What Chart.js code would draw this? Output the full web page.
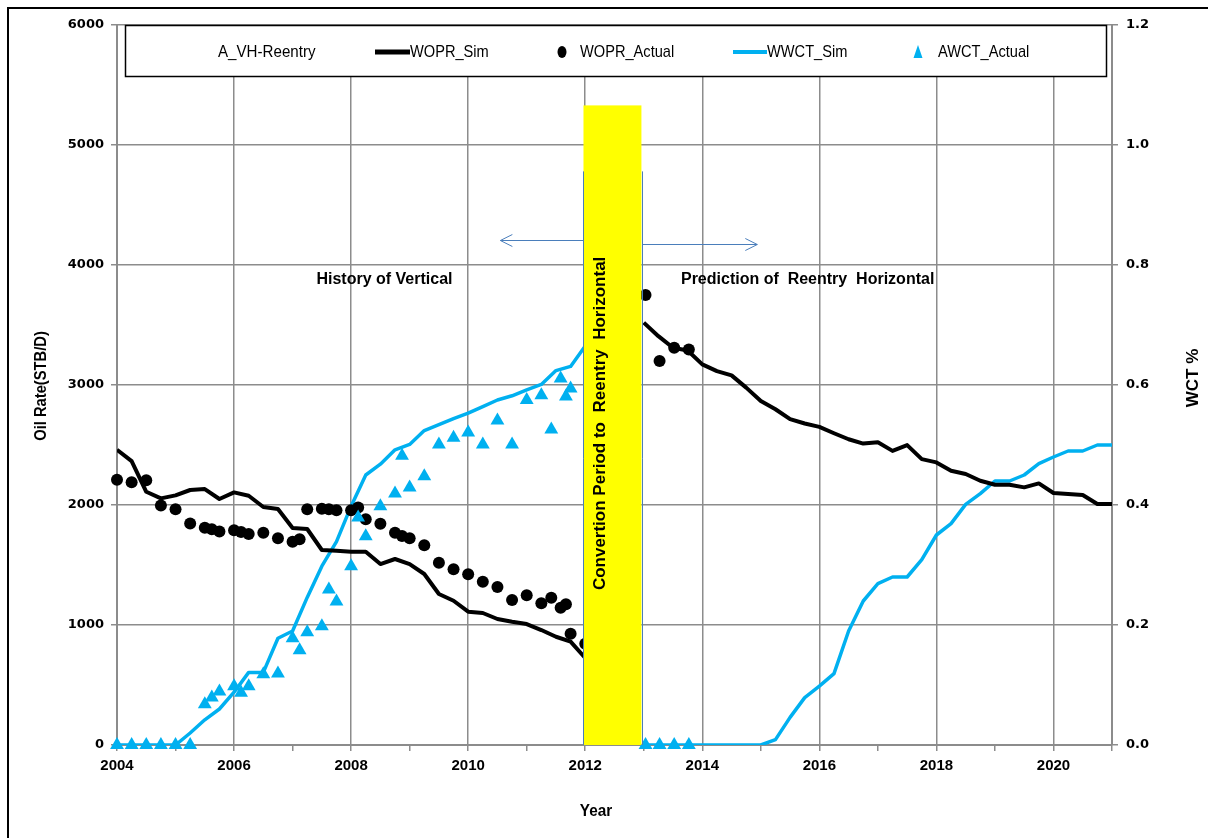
<!DOCTYPE html>
<html>
<head>
<meta charset="utf-8">
<script src="https://cdn.jsdelivr.net/npm/chart.js@4.4.1/dist/chart.umd.min.js"></script>
<style>
  html, body { margin: 0; padding: 0; background: #ffffff; }
  canvas { display: block; }
</style>
</head>
<body>
<canvas id="chart" width="1208" height="838"></canvas>
<script>
// ---- Well A_VH-Reentry: oil rate and water cut, history + prediction ----

// Simulated oil rate (STB/D)
const woprSimYears = [
  2004.0, 2004.25, 2004.5, 2004.75, 2005.0, 2005.25, 2005.5, 2005.75,
  2006.0, 2006.25, 2006.5, 2006.75, 2007.0, 2007.25, 2007.5, 2007.75,
  2008.0, 2008.25, 2008.5, 2008.75, 2009.0, 2009.25, 2009.5, 2009.75,
  2010.0, 2010.25, 2010.5, 2010.75, 2011.0, 2011.25, 2011.5, 2011.75, 2012.0,
  2013.0, 2013.25, 2013.5, 2013.75, 2014.0, 2014.25, 2014.5, 2014.75,
  2015.0, 2015.25, 2015.5, 2015.75, 2016.0, 2016.25, 2016.5, 2016.75,
  2017.0, 2017.25, 2017.5, 2017.75, 2018.0, 2018.25, 2018.5, 2018.75,
  2019.0, 2019.25, 2019.5, 2019.75, 2020.0, 2020.25, 2020.5, 2020.75, 2021.0
];
const woprSimValues = [
  2460, 2365, 2110, 2055, 2080, 2125, 2133, 2050,
  2105, 2077, 1983, 1966, 1808, 1800, 1625, 1619,
  1611, 1611, 1508, 1550, 1508, 1425, 1258, 1202,
  1111, 1100, 1050, 1027, 1008, 958, 902, 861, 725,
  3520, 3407, 3310, 3288, 3172, 3116, 3080, 2978,
  2867, 2798, 2715, 2679, 2651, 2598, 2548, 2512,
  2523, 2451, 2499, 2382, 2355, 2285, 2258, 2202,
  2169, 2169, 2147, 2180, 2100, 2091, 2083, 2008, 2008
];

// Measured oil rate (STB/D)
const woprActualYears = [
  2004.0, 2004.25, 2004.5, 2004.75, 2005.0, 2005.25, 2005.5, 2005.62, 2005.75,
  2006.0, 2006.12, 2006.25, 2006.5, 2006.75, 2007.0, 2007.12, 2007.25, 2007.5,
  2007.62, 2007.75, 2008.0, 2008.12, 2008.25, 2008.5, 2008.75, 2008.87, 2009.0,
  2009.25, 2009.5, 2009.75, 2010.0, 2010.25, 2010.5, 2010.75, 2011.0, 2011.25,
  2011.42, 2011.58, 2011.67, 2011.75, 2012.0,
  2013.03, 2013.27, 2013.52, 2013.77
];
const woprActualValues = [
  2210, 2190, 2206, 1995, 1965, 1845, 1811, 1797, 1780,
  1790, 1775, 1758, 1769, 1722, 1694, 1714, 1964, 1969,
  1964, 1956, 1956, 1980, 1881, 1844, 1769, 1742, 1722,
  1664, 1519, 1464, 1422, 1361, 1317, 1208, 1247, 1181,
  1228, 1144, 1172, 928, 844,
  3750, 3200, 3310, 3295
];

// Simulated water cut (fraction)
const wwctSimYears = [
  2004.0, 2004.25, 2004.5, 2004.75, 2005.0, 2005.25, 2005.5, 2005.75,
  2006.0, 2006.25, 2006.5, 2006.75, 2007.0, 2007.25, 2007.5, 2007.75,
  2008.0, 2008.25, 2008.5, 2008.75, 2009.0, 2009.25, 2009.5, 2009.75,
  2010.0, 2010.25, 2010.5, 2010.75, 2011.0, 2011.25, 2011.5, 2011.75, 2012.0,
  2013.0, 2013.25, 2013.5, 2013.75, 2014.0, 2014.25, 2014.5, 2014.75,
  2015.0, 2015.25, 2015.5, 2015.75, 2016.0, 2016.25, 2016.5, 2016.75,
  2017.0, 2017.25, 2017.5, 2017.75, 2018.0, 2018.25, 2018.5, 2018.75,
  2019.0, 2019.25, 2019.5, 2019.75, 2020.0, 2020.25, 2020.5, 2020.75, 2021.0
];
const wwctSimValues = [
  0, 0, 0, 0, 0, 0.02, 0.042, 0.06,
  0.088, 0.121, 0.121, 0.178, 0.19, 0.246, 0.298, 0.339,
  0.398, 0.45, 0.468, 0.492, 0.501, 0.524, 0.534, 0.544,
  0.553, 0.564, 0.575, 0.582, 0.592, 0.601, 0.624, 0.631, 0.665,
  0, 0, 0, 0, 0, 0, 0, 0,
  0, 0.009, 0.046, 0.079, 0.098, 0.119, 0.19, 0.24,
  0.269, 0.28, 0.28, 0.309, 0.35, 0.369, 0.401, 0.419,
  0.44, 0.44, 0.45, 0.469, 0.48, 0.49, 0.49, 0.5, 0.5
];

// Measured water cut (fraction)
const awctActualYears = [
  2004.0, 2004.25, 2004.5, 2004.75, 2005.0, 2005.25, 2005.5, 2005.62, 2005.75,
  2006.0, 2006.12, 2006.25, 2006.5, 2006.75, 2007.0, 2007.12, 2007.25, 2007.5,
  2007.62, 2007.75, 2008.0, 2008.12, 2008.25, 2008.5, 2008.75, 2008.87, 2009.0,
  2009.25, 2009.5, 2009.75, 2010.0, 2010.25, 2010.5, 2010.75, 2011.0, 2011.25,
  2011.42, 2011.58, 2011.67, 2011.75,
  2013.03, 2013.27, 2013.52, 2013.77
];
const awctActualValues = [
  0, 0, 0, 0, 0, 0, 0.068, 0.079, 0.089,
  0.098, 0.087, 0.098, 0.118, 0.119, 0.178, 0.158, 0.188, 0.198,
  0.259, 0.239, 0.298, 0.379, 0.348, 0.398, 0.419, 0.482, 0.429,
  0.448, 0.501, 0.512, 0.521, 0.501, 0.541, 0.501, 0.575, 0.583,
  0.526, 0.611, 0.581, 0.594,
  0, 0, 0, 0
];

// Axis ranges and tick steps
const yearRange = [2004, 2021];
const rateRange = [0, 6000];
const rateStep = 1000;
const wctRange = [0, 1.2];
const wctStep = 0.2;

// Conversion period band and phase annotations (in data units)
const conversionPeriod = [2011.97, 2012.96];
const conversionTop = 5330;
const boundaryYears = [2011.97, 2012.97];
const boundaryTop = 4780;
const phaseArrows = [
  { fromYear: 2011.97, toYear: 2010.55, rate: 4210 },
  { fromYear: 2012.97, toYear: 2014.94, rate: 4175 }
];
const phaseNotes = [
  { text: 'History of Vertical', year: 2008.57, rate: 3880 },
  { text: 'Prediction of  Reentry  Horizontal', year: 2015.8, rate: 3880 }
];
const conversionText = 'Convertion Period to  Reentry  Horizontal';
const conversionTextPos = { year: 2012.26, rate: 2680 };

const legendTitle = 'A_VH-Reentry';
const seriesNames = ['WOPR_Sim', 'WOPR_Actual', 'WWCT_Sim', 'AWCT_Actual'];

const BLACK = '#000000';
const CYAN = '#00B0F0';
const GRID = '#8c8c8c';
const SANS = '"Liberation Sans", Arial, sans-serif';
const WIDE = '"DejaVu Sans", Verdana, sans-serif';

const zip = (xs, ys) => xs.map((x, i) => ({ x: x, y: ys[i] }));

// the simulated curves are not drawn across the conversion period
const midConversion = (conversionPeriod[0] + conversionPeriod[1]) / 2;
const skipConversion = color => c =>
  (c.p0.parsed.x < midConversion && c.p1.parsed.x > midConversion) ? 'rgba(0,0,0,0)' : color;

// narrow-looking text: draw with a horizontal squeeze
function narrowText(ctx, text, x, y, squeeze) {
  ctx.save();
  ctx.translate(x, y);
  ctx.scale(squeeze, 1);
  ctx.fillText(text, 0, 0);
  ctx.restore();
}

const annotations = {
  id: 'annotations',
  afterDatasetsDraw(chart) {
    const ctx = chart.ctx;
    const xs = chart.scales.x, ys = chart.scales.y;
    ctx.save();
    // conversion period band
    const x0 = xs.getPixelForValue(conversionPeriod[0]);
    const x1 = xs.getPixelForValue(conversionPeriod[1]);
    const yTop = ys.getPixelForValue(conversionTop);
    const yBot = ys.getPixelForValue(0);
    ctx.fillStyle = '#FFFF00';
    ctx.fillRect(x0, yTop, x1 - x0, yBot - yTop);

    // phase boundaries
    ctx.strokeStyle = '#4a7ebb';
    ctx.lineWidth = 1;
    boundaryYears.forEach(yr => {
      const px = Math.round(xs.getPixelForValue(yr)) + 0.5;
      ctx.beginPath();
      ctx.moveTo(px, ys.getPixelForValue(boundaryTop));
      ctx.lineTo(px, yBot);
      ctx.stroke();
    });

    // phase arrows
    phaseArrows.forEach(a => {
      const ax0 = xs.getPixelForValue(a.fromYear);
      const ax1 = xs.getPixelForValue(a.toYear);
      const ay = Math.round(ys.getPixelForValue(a.rate)) + 0.5;
      const dir = ax1 > ax0 ? -1 : 1;
      ctx.beginPath();
      ctx.moveTo(ax0, ay);
      ctx.lineTo(ax1, ay);
      ctx.moveTo(ax1 + dir * 12, ay - 6);
      ctx.lineTo(ax1, ay);
      ctx.lineTo(ax1 + dir * 12, ay + 6);
      ctx.stroke();
    });

    // vertical text inside the band
    ctx.fillStyle = BLACK;
    ctx.font = 'bold 17px ' + SANS;
    ctx.textAlign = 'center';
    ctx.textBaseline = 'middle';
    ctx.save();
    ctx.translate(xs.getPixelForValue(conversionTextPos.year), ys.getPixelForValue(conversionTextPos.rate));
    ctx.rotate(-Math.PI / 2);
    ctx.fillText(conversionText, 0, 0);
    ctx.restore();

    // phase labels
    ctx.font = 'bold 16px ' + SANS;
    phaseNotes.forEach(n => {
      ctx.fillText(n.text, xs.getPixelForValue(n.year), ys.getPixelForValue(n.rate));
    });
    ctx.restore();
  },
  afterDraw(chart) {
    const ctx = chart.ctx;
    ctx.save();
    // legend box
    ctx.fillStyle = '#ffffff';
    ctx.fillRect(125, 25, 982, 52);
    ctx.strokeStyle = BLACK;
    ctx.lineWidth = 1.5;
    ctx.strokeRect(125.5, 25.5, 981, 51);

    ctx.fillStyle = BLACK;
    ctx.font = '17px ' + SANS;
    ctx.textAlign = 'left';
    ctx.textBaseline = 'middle';
    const ly = 52;
    const sq = 0.86;
    narrowText(ctx, legendTitle, 218, ly, 0.89);

    ctx.lineWidth = 5;
    ctx.strokeStyle = BLACK;
    ctx.beginPath(); ctx.moveTo(375, ly); ctx.lineTo(410, ly); ctx.stroke();
    narrowText(ctx, seriesNames[0], 410, ly, sq);

    ctx.beginPath(); ctx.ellipse(562, ly, 4.5, 6, 0, 0, Math.PI * 2); ctx.fill();
    narrowText(ctx, seriesNames[1], 580, ly, sq);

    ctx.strokeStyle = CYAN;
    ctx.lineWidth = 4;
    ctx.beginPath(); ctx.moveTo(733, ly); ctx.lineTo(767, ly); ctx.stroke();
    narrowText(ctx, seriesNames[2], 767, ly, sq);

    ctx.fillStyle = CYAN;
    ctx.beginPath(); ctx.moveTo(918, ly - 7); ctx.lineTo(922.5, ly + 6); ctx.lineTo(913.5, ly + 6); ctx.closePath(); ctx.fill();
    ctx.fillStyle = BLACK;
    narrowText(ctx, seriesNames[3], 938, ly, sq);

    // axis titles
    ctx.textAlign = 'center';
    ctx.font = 'bold 16px ' + SANS;
    ctx.save();
    ctx.translate(42, 386);
    ctx.rotate(-Math.PI / 2);
    ctx.scale(0.92, 1);
    ctx.fillText('Oil Rate(STB/D)', 0, 0);
    ctx.restore();

    ctx.font = 'bold 17px ' + SANS;
    ctx.save();
    ctx.translate(1193, 378);
    ctx.rotate(-Math.PI / 2);
    ctx.fillText('WCT %', 0, 0);
    ctx.restore();

    ctx.font = 'bold 17px ' + SANS;
    narrowText(ctx, 'Year', 596, 811, 0.9);

    // outer frame
    ctx.strokeStyle = BLACK;
    ctx.lineWidth = 2;
    ctx.strokeRect(8, 8, 1220, 850);
    ctx.restore();
  }
};

new Chart(document.getElementById('chart'), {
  data: {
    datasets: [
      {
        type: 'scatter', label: seriesNames[3], yAxisID: 'y2',
        data: zip(awctActualYears, awctActualValues),
        pointStyle: 'triangle', pointRadius: 8, clip: false,
        backgroundColor: CYAN, borderColor: CYAN, borderWidth: 0
      },
      {
        type: 'scatter', label: seriesNames[1], yAxisID: 'y',
        data: zip(woprActualYears, woprActualValues),
        pointStyle: 'circle', pointRadius: 6, clip: false,
        backgroundColor: BLACK, borderColor: BLACK, borderWidth: 0
      },
      {
        type: 'line', label: seriesNames[0], yAxisID: 'y',
        data: zip(woprSimYears, woprSimValues),
        borderColor: BLACK, borderWidth: 4, pointRadius: 0, tension: 0,
        borderJoinStyle: 'round', fill: false,
        segment: { borderColor: skipConversion(BLACK) }
      },
      {
        type: 'line', label: seriesNames[2], yAxisID: 'y2',
        data: zip(wwctSimYears, wwctSimValues),
        borderColor: CYAN, borderWidth: 3.5, pointRadius: 0, tension: 0,
        borderJoinStyle: 'round', fill: false,
        segment: { borderColor: skipConversion(CYAN) }
      }
    ]
  },
  options: {
    responsive: false,
    animation: false,
    devicePixelRatio: 1,
    layout: { padding: { top: 25, left: 0, right: 0, bottom: 0 } },
    plugins: { legend: { display: false }, tooltip: { enabled: false } },
    scales: {
      x: {
        type: 'linear', position: 'bottom',
        min: yearRange[0], max: yearRange[1],
        afterFit: s => { s.height = 93; },
        ticks: {
          stepSize: 1, autoSkip: false, maxRotation: 0, padding: 6,
          color: BLACK, font: { family: SANS, weight: 'bold', size: 15 },
          callback: v => (v % 2 === 0 ? String(v) : '')
        },
        grid: {
          color: c => (c.tick && c.tick.value % 2 === 0 && c.tick.value > yearRange[0]) ? GRID : 'rgba(0,0,0,0)',
          tickColor: GRID, lineWidth: 1.5, tickLength: 6
        },
        border: { color: GRID, width: 2 }
      },
      y: {
        type: 'linear', position: 'left',
        min: rateRange[0], max: rateRange[1],
        afterFit: s => { s.width = 117; },
        ticks: {
          stepSize: rateStep, padding: 7, color: BLACK,
          font: { family: WIDE, weight: 'bold', size: 13 },
          callback: v => String(v)
        },
        grid: { color: GRID, tickColor: GRID, lineWidth: 1.5, tickLength: 6 },
        border: { color: GRID, width: 2 }
      },
      y2: {
        type: 'linear', position: 'right',
        min: wctRange[0], max: wctRange[1],
        afterFit: s => { s.width = 96; },
        ticks: {
          stepSize: wctStep, padding: 8, color: BLACK,
          font: { family: WIDE, weight: 'bold', size: 13 },
          callback: v => Number(v).toFixed(1)
        },
        grid: { drawOnChartArea: false, color: GRID, tickColor: GRID, lineWidth: 1.5, tickLength: 6 },
        border: { color: GRID, width: 2 }
      }
    }
  },
  plugins: [annotations]
});
</script>
</body>
</html>
